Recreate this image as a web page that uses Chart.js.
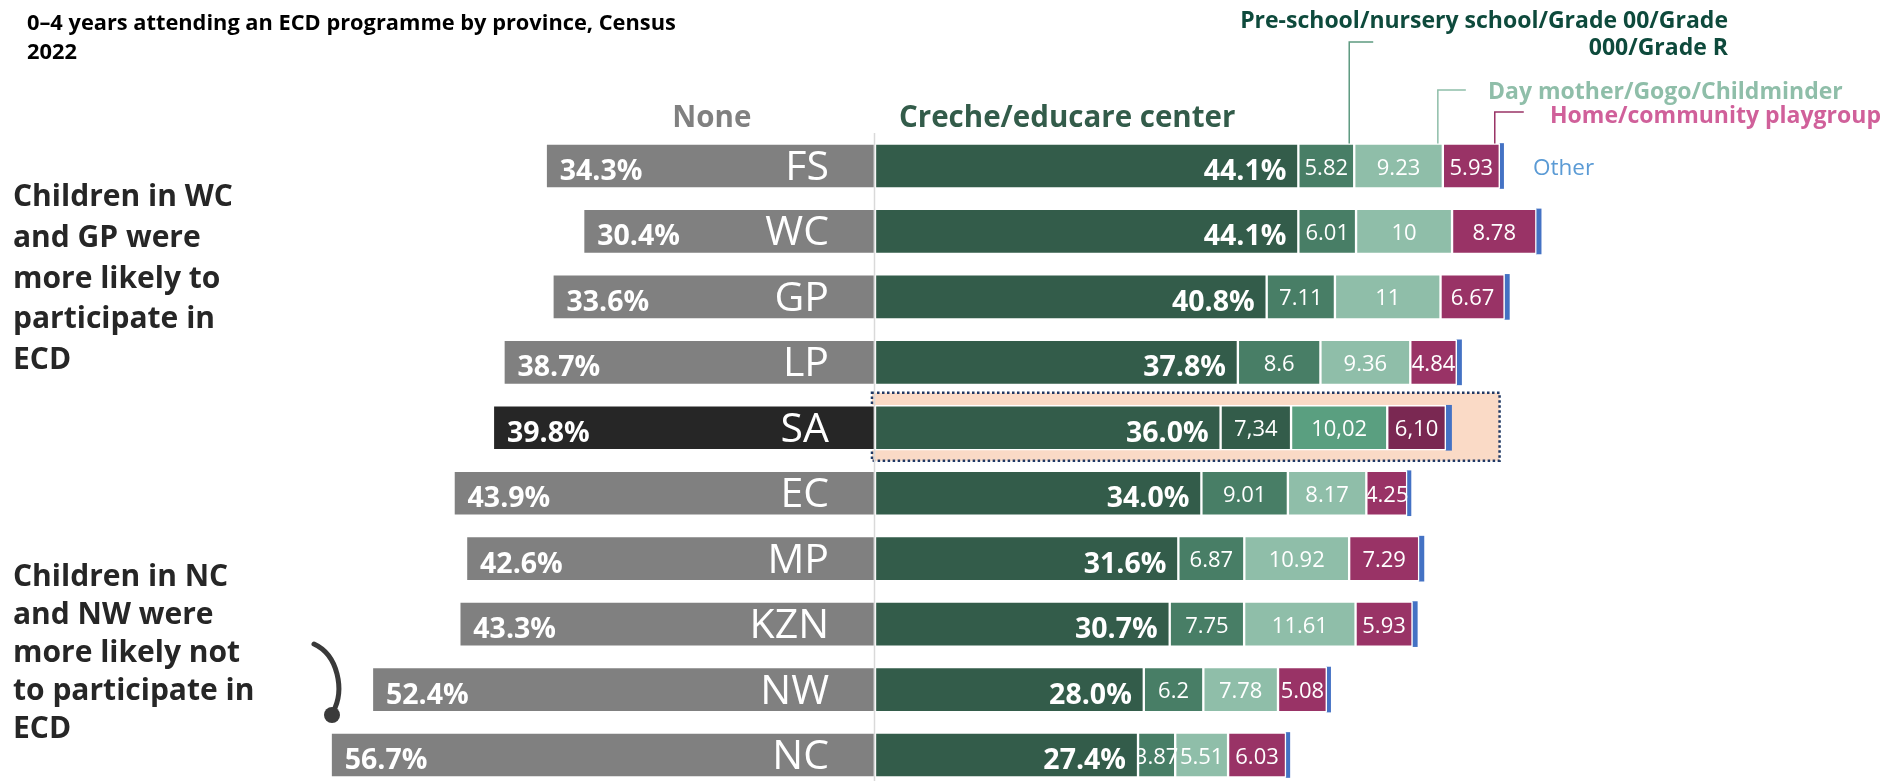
<!DOCTYPE html>
<html>
<head>
<meta charset="utf-8">
<title>0-4 years attending an ECD programme by province</title>
<script src="https://cdn.jsdelivr.net/npm/chart.js@4.4.1/dist/chart.umd.min.js"></script>
<style>
  html, body { margin: 0; padding: 0; background: #fff; overflow: hidden; }
  #wrap { position: relative; width: 1884px; height: 781px; }
</style>
</head>
<body>
<div id="wrap"><canvas id="ecdChart"></canvas></div>
<script>
// data (percent of 0-4 year olds)
const provinces = ['FS', 'WC', 'GP', 'LP', 'SA', 'EC', 'MP', 'KZN', 'NW', 'NC'];
const noneVals = [34.3, 30.4, 33.6, 38.7, 39.8, 43.9, 42.6, 43.3, 52.4, 56.7];
const crecheVals = [44.1, 44.1, 40.8, 37.8, 36.0, 34.0, 31.6, 30.7, 28.0, 27.4];
const preschoolVals = [5.82, 6.01, 7.11, 8.6, 7.34, 9.01, 6.87, 7.75, 6.2, 3.87];
const dayMotherVals = [9.23, 10, 11, 9.36, 10.02, 8.17, 10.92, 11.61, 7.78, 5.51];
const homeVals = [5.93, 8.78, 6.67, 4.84, 6.10, 4.25, 7.29, 5.93, 5.08, 6.03];
const otherVals = [0.4, 0.5, 0.5, 0.5, 0.6, 0.4, 0.5, 0.5, 0.4, 0.4];

const seriesNames = ['None', 'Creche/educare center', 'Pre-school/nursery school/Grade 00/Grade 000/Grade R',
  'Day mother/Gogo/Childminder', 'Home/community playgroup', 'Other'];

const titleLines = ['0\u20134 years attending an ECD programme by province, Census', '2022'];
const noteTop = ['Children in WC', 'and GP were', 'more likely to', 'participate in', 'ECD'];
const noteBottom = ['Children in NC', 'and NW were', 'more likely not', 'to participate in', 'ECD'];

const FONT = '"Open Sans", "Noto Sans", sans-serif';
const highlight = 'SA';

function rowColors(normal, special) {
  return provinces.map(p => p === highlight ? special : normal);
}

function segLabel(v, i) {
  if (provinces[i] === highlight) return v.toFixed(2).replace('.', ',');
  return String(v);
}

const ecdPlugin = {
  id: 'ecdDecor',
  beforeDatasetsDraw(chart) {
    const ctx = chart.ctx;
    const x = chart.scales.x, y = chart.scales.y;
    const i = provinces.indexOf(highlight);
    const yc = y.getPixelForValue(i);
    const total = crecheVals[i] + preschoolVals[i] + dayMotherVals[i] + homeVals[i] + otherVals[i];
    const left = x.getPixelForValue(0) - 3;
    const right = x.getPixelForValue(total) + 48;
    ctx.save();
    ctx.fillStyle = '#FADAC6';
    ctx.fillRect(left, yc - 35, right - left, 68);
    ctx.strokeStyle = '#1F3864';
    ctx.lineWidth = 2.5;
    ctx.setLineDash([2.5, 2.5]);
    ctx.strokeRect(left, yc - 35, right - left, 68);
    ctx.restore();
  },
  afterDatasetsDraw(chart) {
    const ctx = chart.ctx;
    const xs = chart.scales.x;
    const zero = xs.getPixelForValue(0);
    ctx.save();

    // centre divider
    ctx.strokeStyle = '#D9D9D9';
    ctx.lineWidth = 1.5;
    ctx.beginPath();
    ctx.moveTo(zero - 0.5, 133);
    ctx.lineTo(zero - 0.5, chart.height);
    ctx.stroke();

    const text = (t, x, y, font, color, align) => {
      ctx.font = font;
      ctx.fillStyle = color;
      ctx.textAlign = align || 'left';
      ctx.textBaseline = 'alphabetic';
      ctx.fillText(t, x, y);
    };

    // labels inside bars
    chart.data.datasets.forEach((ds, di) => {
      const meta = chart.getDatasetMeta(di);
      meta.data.forEach((el, i) => {
        const p = el.getProps(['x', 'y', 'base'], true);
        const v = ds.data[i];
        if (di === 0) {
          text(Math.abs(v).toFixed(1) + '%', p.x + 14, p.y + 14, '700 28.5px ' + FONT, '#fff', 'left');
          text(provinces[i], p.base - 46, p.y + 14, '400 41px ' + FONT, '#fff', 'right');
        } else if (di === 1) {
          text(v.toFixed(1) + '%', p.x - 12, p.y + 14, '700 28.5px ' + FONT, '#fff', 'right');
        } else if (di < 5) {
          // labels wider than their segment get cut at the segment start
          ctx.save();
          ctx.beginPath();
          ctx.rect(p.base + 1, p.y - 30, chart.width, 60);
          ctx.clip();
          text(segLabel(v, i), (p.x + p.base) / 2, p.y + 8.5, '400 22px ' + FONT, '#fff', 'center');
          ctx.restore();
        }
      });
    });

    // series headers
    text('None', xs.getPixelForValue(-17), 127, '700 29.5px ' + FONT, '#808080', 'center');
    text('Creche/educare center', zero + 24, 127, '700 29.5px ' + FONT, '#335C4A', 'left');

    // legend call-outs tied to the first row
    const first = k => chart.getDatasetMeta(k).data[0].getProps(['x', 'y', 'height'], true);
    const callout = (k, topY, armLen, color) => {
      const p = first(k);
      const cx = p.x - 5;
      ctx.strokeStyle = color;
      ctx.lineWidth = 1.5;
      ctx.beginPath();
      ctx.moveTo(cx, p.y - p.height / 2);
      ctx.lineTo(cx, topY);
      ctx.lineTo(cx + armLen, topY);
      ctx.stroke();
    };
    callout(2, 42, 24, '#5E9A80');
    callout(3, 90, 28, '#8FBEA9');
    callout(4, 112, 29, '#993366');

    text('Pre-school/nursery school/Grade 00/Grade', 1728, 28, '700 23px ' + FONT, '#0E4A3C', 'right');
    text('000/Grade R', 1728, 55, '700 23px ' + FONT, '#0E4A3C', 'right');
    text('Day mother/Gogo/Childminder', 1488, 99, '700 23px ' + FONT, '#8FBEA9', 'left');
    text('Home/community playgroup', 1550, 123, '700 23px ' + FONT, '#D0609A', 'left');
    text('Other', 1533, 175, '400 22.5px ' + FONT, '#5B9BD5', 'left');

    // title
    text(titleLines[0], 27, 30, '700 21.8px ' + FONT, '#000', 'left');
    text(titleLines[1], 27, 59, '700 21.8px ' + FONT, '#000', 'left');

    // side notes
    noteTop.forEach((l, k) => text(l, 13, 206 + k * 40.8, '700 30px ' + FONT, '#262626', 'left'));
    noteBottom.forEach((l, k) => text(l, 13, 586 + k * 38, '700 30px ' + FONT, '#262626', 'left'));

    // curved pointer
    ctx.strokeStyle = '#3A3A3A';
    ctx.lineWidth = 5;
    ctx.lineCap = 'round';
    ctx.beginPath();
    ctx.moveTo(314, 644);
    ctx.bezierCurveTo(338, 655, 345, 690, 333, 712);
    ctx.stroke();
    ctx.fillStyle = '#3A3A3A';
    ctx.beginPath();
    ctx.arc(332, 715, 8, 0, Math.PI * 2);
    ctx.fill();

    ctx.restore();
  }
};

const common = { borderColor: '#fff', borderWidth: 1.5, borderSkipped: false, clip: false };

new Chart(document.getElementById('ecdChart'), {
  type: 'bar',
  data: {
    labels: provinces,
    datasets: [
      Object.assign({ label: seriesNames[0], data: noneVals.map(v => -v),
        backgroundColor: rowColors('#808080', '#262626') }, common),
      Object.assign({ label: seriesNames[1], data: crecheVals,
        backgroundColor: rowColors('#335C4A', '#335C4A') }, common),
      Object.assign({ label: seriesNames[2], data: preschoolVals,
        backgroundColor: rowColors('#487E66', '#335C4A') }, common),
      Object.assign({ label: seriesNames[3], data: dayMotherVals,
        backgroundColor: rowColors('#8FBEA9', '#5A9F80') }, common),
      Object.assign({ label: seriesNames[4], data: homeVals,
        backgroundColor: rowColors('#993366', '#7A2852') }, common),
      { label: seriesNames[5], data: otherVals, backgroundColor: '#4472C4',
        borderWidth: 0, clip: false }
    ]
  },
  options: {
    indexAxis: 'y',
    responsive: true,
    maintainAspectRatio: false,
    animation: false,
    barThickness: 45,
    layout: { padding: { left: 299, right: 1, top: 166, bottom: 26 } },
    scales: {
      x: { stacked: true, min: -60, max: 105, display: false },
      y: { stacked: true, offset: false, display: false }
    },
    plugins: {
      legend: { display: false },
      tooltip: { enabled: false }
    }
  },
  plugins: [ecdPlugin]
});
</script>
</body>
</html>
